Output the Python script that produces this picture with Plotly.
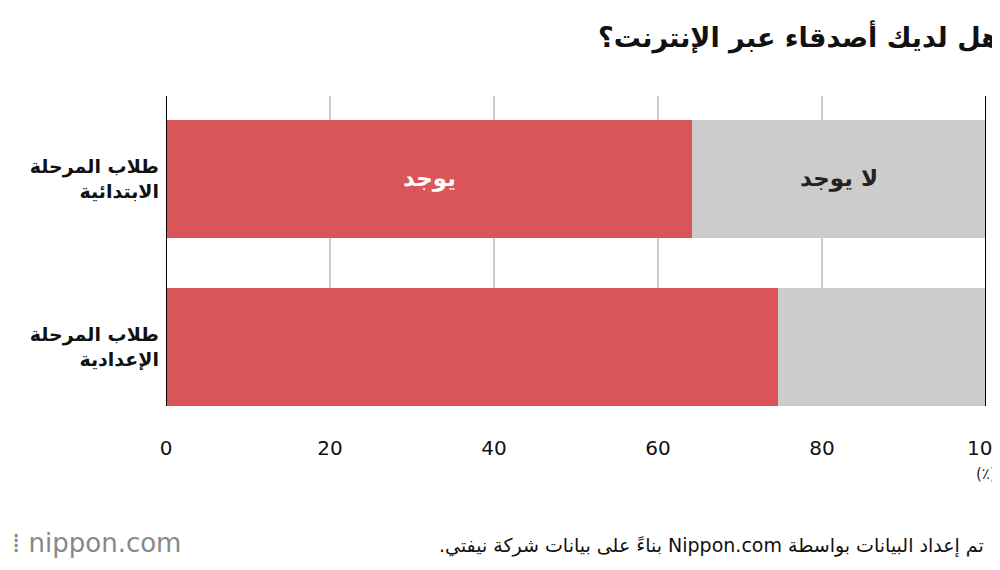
import plotly.graph_objects as go

categories = ["<b>طلاب المرحلة<br>الابتدائية</b>", "<b>طلاب المرحلة<br>الإعدادية</b>"]
yes_vals = [64.2, 74.6]
no_vals = [35.8, 25.4]
x_ticks = [0, 20, 40, 60, 80, 100]

ypos = [1, 0]
font = "DejaVu Sans"

fig = go.Figure()
fig.add_trace(go.Bar(y=ypos, x=yes_vals, orientation="h", width=0.70,
                     marker=dict(color="#d95557", line_width=0), name="يوجد"))
fig.add_trace(go.Bar(y=ypos, x=no_vals, orientation="h", width=0.70,
                     marker=dict(color="#cccccc", line_width=0), name="لا يوجد"))

# labels inside the top bar
fig.add_annotation(x=yes_vals[0] / 2, y=ypos[0], text="<b>يوجد</b>", showarrow=False,
                   font=dict(color="white", size=23, family=font))
fig.add_annotation(x=yes_vals[0] + no_vals[0] / 2, y=ypos[0], text="<b>لا يوجد</b>", showarrow=False,
                   font=dict(color="#222", size=23, family=font))

# black boundary lines at 0 and 100
for v in (0, 100):
    fig.add_shape(type="line", x0=v, x1=v, y0=0, y1=1, xref="x", yref="paper",
                  line=dict(color="black", width=2))

fig.add_annotation(x=1.02, y=1.13, xref="paper", yref="paper", xanchor="right", yanchor="bottom",
                   text="<b>هل لديك أصدقاء عبر الإنترنت؟</b>", showarrow=False,
                   font=dict(size=27, family=font, color="#111"))
fig.add_annotation(x=100, y=-0.255, xref="x", yref="paper", text="(٪)", showarrow=False,
                   font=dict(size=15, family=font, color="#222"))
fig.add_annotation(x=1.0, y=-0.497, xref="paper", yref="paper", xanchor="right",
                   text="\u202bتم إعداد البيانات بواسطة Nippon.com بناءً على بيانات شركة نيفتي.\u202c",
                   showarrow=False, font=dict(size=19, family=font, color="#111"))
fig.add_annotation(x=-0.19, y=-0.497, xref="paper", yref="paper", xanchor="left",
                   text="⁞ nippon.com", showarrow=False,
                   font=dict(size=26, family=font, color="#888"))

fig.update_layout(
    barmode="stack", showlegend=False, width=1000, height=570,
    margin=dict(l=158, r=22, t=88, b=172),
    plot_bgcolor="white", paper_bgcolor="white",
    xaxis=dict(range=[0, 100], tickvals=x_ticks, showgrid=True, gridcolor="#cccccc",
               gridwidth=1.5, zeroline=False, ticklabelstandoff=28, automargin=False,
               tickfont=dict(size=20, family=font, color="#111")),
    yaxis=dict(range=[-0.35, 1.49], tickvals=ypos, ticktext=categories, showgrid=False,
               zeroline=False, ticklabelstandoff=6, automargin=False,
               tickfont=dict(size=19, family=font, color="#111")),
)

fig.write_html("out.html")
